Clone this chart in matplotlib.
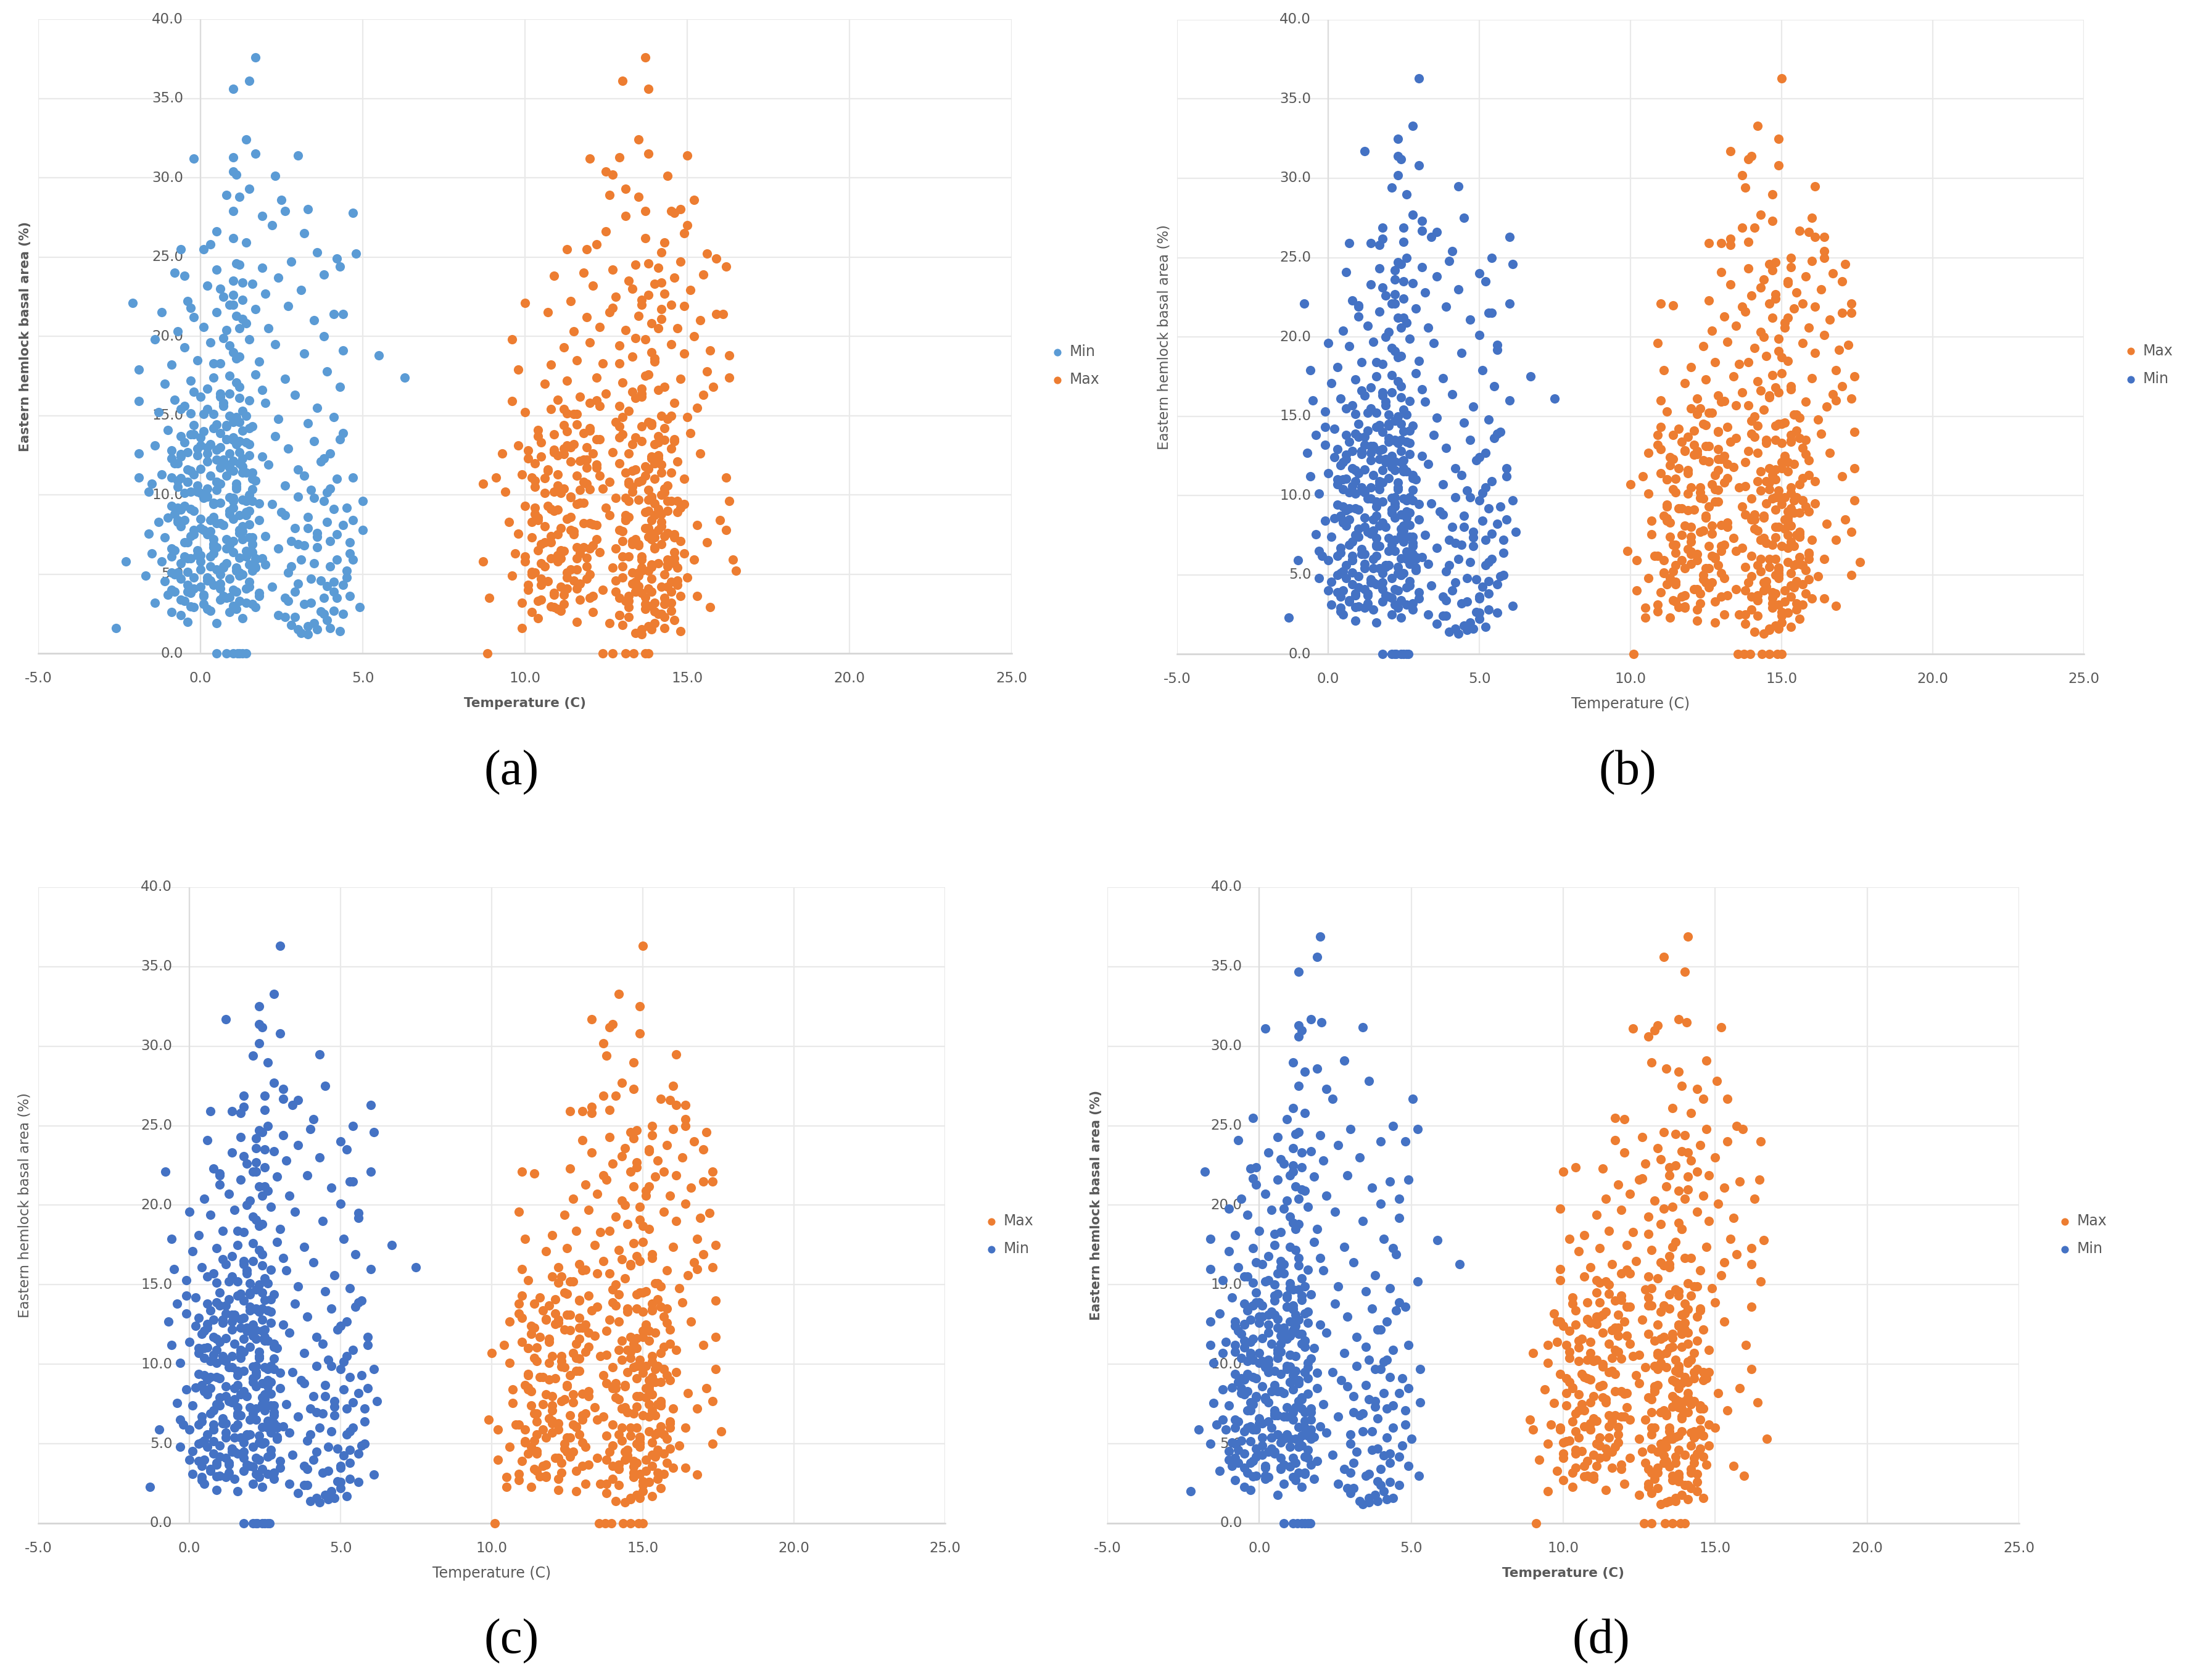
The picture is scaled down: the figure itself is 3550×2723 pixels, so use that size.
import matplotlib
matplotlib.use('Agg')
import matplotlib.pyplot as plt


MIN_COLOR_LIGHT = '#5B9BD5'
MIN_COLOR = '#4472C4'
MAX_COLOR = '#ED7D31'
TEXT_GREY = '#595959'

X_TICKS = [-5.0, 0.0, 5.0, 10.0, 15.0, 20.0, 25.0]
Y_TICKS = [0.0, 5.0, 10.0, 15.0, 20.0, 25.0, 30.0, 35.0, 40.0]
X_LABEL = 'Temperature (C)'
Y_LABEL = 'Eastern hemlock basal area (%)'
CAPTIONS = ['(a)', '(b)', '(c)', '(d)']

# panel (a): basal area of each plot and its min / max temperature
BASAL_A = [
    37.6, 36.1, 35.6, 32.4, 31.5, 31.2, 31.3, 31.4, 30.4, 30.2,
    30.1, 28.9, 28.8, 29.3, 28.6, 27.9, 28.0, 27.8, 27.9, 27.6,
    26.5, 26.6, 27.0, 25.2, 25.3, 25.5, 25.5, 25.8, 23.8, 22.1,
    21.5, 17.9, 15.9, 18.8, 17.4, 12.6, 11.1, 5.8, 1.6, 9.6,
    7.8, 2.9, 5.9, 19.8, 10.7, 24.4, 21.4, 5.2, 3.6, 3.5,
    0.0, 0.0, 0.0, 0.0, 0.0, 0.0, 0.0,
    1.3, 1.5, 1.2, 1.8, 1.6, 2.0, 1.9, 2.2, 2.4, 2.1, 2.6, 2.8, 2.5, 2.9, 2.3, 1.4,
    3.2, 3.4, 3.1, 3.6, 3.3, 3.8, 3.5, 3.2, 3.9, 3.7,
    4.1, 4.3, 4.0, 4.5, 4.2, 4.4, 4.6, 4.8, 4.9, 5.1,
    5.3, 5.0, 5.4, 5.2, 5.6, 5.5, 5.7, 5.9, 5.8, 6.0,
    5.5, 4.7, 6.1, 5.1, 4.6, 3.9, 5.7,
    6.3, 6.5, 6.2, 6.7, 6.4, 6.9, 6.6, 6.8, 7.1, 7.3,
    7.0, 7.5, 7.2, 7.7, 7.4, 7.9, 7.6, 8.1, 8.3, 8.0,
    8.5, 8.2, 8.7, 8.4, 8.9, 8.6, 9.1, 9.3, 9.0, 9.5,
    9.2, 9.7, 9.4, 9.9, 9.6, 6.1, 7.8, 8.8, 6.0, 9.8,
    7.0, 8.4,
    10.2, 10.5, 10.1, 10.7, 10.4, 10.9, 10.6, 10.3, 11.0, 11.3,
    11.5, 11.2, 11.7, 11.4, 11.9, 11.6, 12.1, 12.3, 12.5, 12.2,
    12.7, 12.4, 12.9, 12.6, 13.1, 13.3, 13.0, 13.5, 13.2, 13.7,
    13.4, 13.9, 10.8, 12.0, 13.6, 11.1,
    14.1, 14.4, 14.2, 14.6, 14.3, 14.8, 14.5, 14.9, 15.2, 15.4,
    15.1, 15.6, 15.3, 15.8, 15.5, 16.0, 16.2, 16.4, 16.1, 16.6,
    16.3, 16.8, 17.0, 17.2, 17.4, 17.1, 17.6, 17.3, 17.8, 15.0,
    16.7,
    18.2, 18.5, 18.3, 18.7, 18.4, 18.9, 19.1, 19.3, 19.6, 19.4,
    19.8, 19.5, 20.0, 20.3, 20.6, 20.4, 20.8, 20.5, 21.0, 21.2,
    21.5, 21.3, 21.7, 21.9, 21.4,
    22.2, 22.5, 22.3, 22.7, 22.9, 23.2, 23.5, 23.3, 23.7, 23.9,
    24.2, 24.5, 24.3, 24.7, 24.9, 24.0, 22.0,
    2.95, 4.1, 5.15, 6.05, 6.9, 8.15, 9.05, 9.85, 11.05, 12.15,
    12.85, 14.05, 15.15, 15.95, 4.55, 6.45, 8.55, 10.35, 12.55, 14.45,
    5.45, 7.55, 9.45, 11.65, 13.45, 3.55, 2.65, 4.25, 7.35, 10.15,
]
TMIN_A = [
    1.7, 1.5, 1.0, 1.4, 1.7, -0.2, 1.0, 3.0, 1.0, 1.1,
    2.3, 0.8, 1.2, 1.5, 2.5, 2.6, 3.3, 4.7, 1.0, 1.9,
    3.2, 0.5, 2.2, 4.8, 3.6, -0.6, 0.1, 0.3, -0.5, -2.1,
    -1.2, -1.9, -1.9, 5.5, 6.3, -1.9, -1.9, -2.3, -2.6, 5.0,
    5.0, 4.9, 4.7, -1.4, -1.5, 4.3, 4.4, 4.5, 4.6, 4.2,
    0.5, 0.8, 1.0, 1.15, 1.3, 1.4, 1.2,
    3.1, 3.6, 3.3, 2.8, 4.0, -0.4, 0.5, 1.3, 2.4, 3.9, -0.9, 0.2, 4.4, 1.7, 2.9, 4.3,
    -1.4, -0.6, 0.1, 0.7, 1.2, 1.8, 2.6, 3.4, 4.1, -1.0,
    -0.2, 0.4, 1.0, 1.5, 2.2, 3.0, 3.7, 4.5, -1.7, -0.7,
    0.0, 0.6, 1.1, 1.6, 2.0, 2.8, 3.5, 4.2, -1.2, -0.3,
    0.3, 0.9, 1.4, -0.9, 0.2, -0.4, 0.8,
    -1.5, -0.8, -0.1, 0.5, 1.0, 1.6, 2.4, 3.2, 4.0, -1.1,
    -0.4, 0.2, 0.8, 1.3, 2.0, 2.9, 3.6, 4.4, -1.3, -0.6,
    0.0, 0.6, 1.2, 1.8, 2.5, 3.3, 4.1, -0.9, -0.2, 0.4,
    1.0, 1.5, 2.2, 3.0, 3.8, 0.3, -0.2, 0.9, 1.9, 0.1,
    4.6, 4.7,
    -1.6, -0.7, 0.0, 0.6, 1.1, 1.7, 2.6, 3.4, 4.2, -1.2,
    -0.3, 0.3, 0.9, 1.4, 2.1, 3.0, 3.7, -0.9, -0.1, 0.5,
    1.2, 1.9, 2.7, 4.0, -1.4, -0.5, 0.2, 0.8, 1.5, 2.3,
    3.5, 4.4, -0.4, 0.7, 0.0, 4.7,
    -1.0, -0.2, 0.4, 1.0, 1.6, 2.4, 3.3, 4.1, -1.3, -0.6,
    0.1, 0.7, 1.3, 2.0, 3.6, -0.8, 0.0, 0.6, 1.2, 1.9,
    2.9, 4.3, -1.1, -0.3, 0.4, 1.1, 1.7, 2.6, 3.9, 0.9,
    0.2,
    -0.9, -0.1, 0.6, 1.2, 1.8, 3.2, 4.4, -0.5, 0.3, 0.9,
    1.5, 2.3, 3.8, -0.7, 0.1, 0.8, 1.4, 2.1, 3.5, -0.2,
    0.5, 1.1, 1.7, 2.7, 4.1,
    -0.4, 0.7, 1.3, 2.0, 3.1, 0.2, 1.0, 1.6, 2.4, 3.8,
    0.5, 1.2, 1.9, 2.8, 4.2, -0.8, 1.0,
    -0.3, 0.6, -0.4, 1.2, 0.4, 1.5, -0.6, 0.9, -0.6, 1.0,
    0.5, 1.3, -0.3, 1.5, -1.1, 1.4, -1.0, 1.6, -0.6, 0.5,
    1.7, -1.6, 1.8, 0.0, 1.0, 0.9, 3.7, 3.9, 3.6, 3.9,
]
TMAX_A = [
    13.7, 13.0, 13.8, 13.5, 13.8, 12.0, 12.9, 15.0, 12.5, 12.7,
    14.4, 12.6, 13.5, 13.1, 15.2, 14.5, 14.8, 14.6, 13.7, 13.1,
    14.9, 12.5, 15.0, 15.6, 14.2, 11.3, 11.9, 12.2, 10.9, 10.0,
    10.7, 9.8, 9.6, 16.3, 16.3, 9.3, 9.1, 8.7, 9.9, 16.3,
    16.2, 15.7, 16.4, 9.6, 8.7, 16.2, 16.1, 16.5, 15.3, 8.9,
    8.85, 12.4, 12.7, 13.1, 13.35, 13.7, 13.8,
    13.4, 13.9, 13.6, 13.0, 14.3, 11.6, 12.6, 10.4, 12.9, 14.6, 10.2, 11.0, 14.1, 13.2, 14.3, 14.8,
    9.9, 10.5, 11.2, 12.1, 13.1, 13.6, 12.9, 14.0, 14.5, 10.9,
    11.6, 10.1, 12.4, 13.4, 14.2, 13.3, 14.7, 15.0, 9.6, 10.3,
    11.4, 12.0, 12.7, 13.8, 14.4, 13.0, 14.1, 15.2, 10.0, 11.1,
    10.6, 11.9, 13.2, 11.3, 12.8, 13.9, 14.6,
    9.7, 10.4, 11.0, 11.8, 12.3, 13.3, 14.0, 13.5, 14.8, 10.2,
    10.8, 11.5, 12.2, 13.0, 14.3, 13.7, 14.4, 15.3, 9.5, 10.6,
    11.3, 12.0, 12.6, 13.9, 14.7, 13.2, 14.1, 10.0, 10.9, 11.7,
    12.5, 13.5, 14.9, 13.9, 14.5, 13.6, 12.9, 14.2, 11.6, 12.8,
    15.6, 16.0,
    9.4, 10.3, 11.1, 11.9, 12.4, 13.6, 14.4, 13.8, 14.9, 9.9,
    10.7, 11.6, 12.2, 13.1, 14.2, 13.4, 14.7, 10.1, 11.0, 11.8,
    12.7, 13.9, 14.5, 15.4, 9.8, 10.5, 11.4, 12.3, 13.3, 14.1,
    14.6, 15.1, 12.6, 14.0, 12.9, 16.2,
    10.4, 11.2, 12.0, 12.8, 13.6, 14.4, 13.9, 15.0, 10.0, 10.8,
    11.5, 12.3, 13.2, 14.6, 15.3, 11.0, 11.7, 12.5, 13.4, 14.1,
    15.5, 15.8, 10.6, 11.3, 12.2, 13.0, 13.8, 14.8, 15.6, 14.2,
    13.6,
    10.8, 11.6, 12.4, 13.3, 14.0, 14.9, 15.7, 11.2, 12.0, 12.9,
    13.7, 14.5, 15.2, 11.5, 12.3, 13.1, 13.9, 14.7, 15.4, 11.9,
    12.6, 13.5, 14.2, 14.9, 15.9,
    11.4, 12.8, 13.6, 14.3, 15.1, 12.1, 13.2, 14.0, 14.6, 15.5,
    12.7, 13.4, 14.1, 14.8, 15.9, 11.8, 14.5,
    10.8, 11.3, 10.2, 11.9, 10.5, 12.1, 11.0, 11.4, 10.6, 11.7,
    10.9, 12.0, 11.3, 12.2, 10.7, 11.2, 10.4, 12.0, 11.2, 11.6,
    13.9, 9.8, 14.0, 13.8, 14.3, 13.7, 14.0, 13.5, 13.8, 14.3,
]
# the crowded core of panel (a)
BASAL_A_CORE = [
    2.7, 3.3, 3.9, 4.4, 5.0, 5.6, 6.2, 6.8, 7.4, 8.0,
    8.6, 9.2, 9.8, 10.4, 11.0, 11.6, 12.2, 12.8, 13.4, 14.0,
    2.9, 3.5, 4.1, 4.7, 5.3, 5.9, 6.5, 7.1, 7.7, 8.3,
    8.9, 9.5, 10.1, 10.7, 11.3, 11.9, 12.5, 13.1, 13.7, 14.3,
    3.1, 3.7, 4.3, 4.9, 5.5, 6.1, 6.7, 7.3, 7.9, 8.5,
    9.1, 9.7, 10.3, 10.9, 11.5, 12.1, 12.7, 13.3, 13.9, 14.9,
    2.6, 3.2, 3.8, 4.6, 5.2, 5.8, 6.4, 7.0, 7.6, 8.2,
    8.8, 9.4, 10.0, 10.6, 11.2, 11.8, 12.4, 13.0, 13.6, 15.4,
    3.4, 4.0, 4.8, 5.4, 6.0, 6.6, 7.2, 7.8, 8.4, 9.0,
    9.6, 10.2, 10.8, 11.4, 12.0, 12.6, 13.2, 13.8, 14.6, 15.8,
    3.6, 4.2, 5.1, 5.7, 6.3, 6.9, 7.5, 8.1, 8.7, 9.3,
    9.9, 10.5, 11.1, 11.7, 12.3, 12.9, 13.5, 14.2, 15.1, 16.4,
    2.4, 3.0, 3.6, 4.2, 4.8, 5.4, 6.0, 6.6, 7.2, 7.8,
    8.4, 9.0, 9.6, 10.2, 10.8, 11.4, 12.0, 12.6, 13.2, 13.8,
    14.4, 15.0, 15.6, 16.2, 16.8, 17.5, 18.6, 19.9, 21.1, 22.6,
    2.8, 3.9, 5.0, 6.1, 7.3, 8.4, 9.6, 10.8, 12.0, 16.5,
    19.0, 20.5, 22.0, 23.4, 24.6, 25.9, 18.3, 21.8, 23.0, 26.2,
    1.5, 1.9, 2.3, 2.7, 3.1, 3.5, 3.9, 4.3, 4.7, 5.1,
    5.5, 5.9, 6.3, 6.7, 7.1, 7.5, 7.9, 8.3, 8.7, 9.2,
    9.8, 10.4, 11.2, 12.3, 13.5, 1.7, 2.5, 3.3, 4.5, 6.9,
]
TMIN_A_CORE = [
    0.3, -0.5, 1.1, 0.6, -0.8, 1.5, 0.0, 0.9, -0.3, 1.3,
    0.4, -0.7, 1.0, 0.2, 1.6, -0.4, 0.7, -0.9, 1.2, 0.1,
    -0.2, 0.8, 1.4, -0.6, 0.5, 1.7, -0.1, 1.0, 0.3, -0.7,
    1.4, 0.6, -0.5, 1.1, -0.2, 0.9, 1.5, 0.0, -0.6, 0.8,
    1.6, 0.1, -0.4, 1.2, 0.7, -0.9, 0.4, 1.5, 0.0, 1.0,
    -0.3, 1.3, 0.5, -0.7, 1.0, 0.2, -0.4, 1.4, 0.6, 1.1,
    0.9, 1.4, -0.3, 0.3, 1.1, 0.0, 1.6, -0.5, 1.2, 0.5,
    -0.8, 0.4, 1.5, -0.1, 0.8, 1.3, -0.6, 0.6, 1.0, 0.2,
    0.6, -0.9, 0.2, 1.7, -0.4, 0.8, 1.3, 0.1, -0.7, 1.5,
    1.0, -0.3, 0.5, 1.6, -0.8, 0.9, 0.3, -0.2, 1.2, 0.7,
    1.8, 0.0, 1.2, -0.6, 0.4, 1.6, -0.2, 0.7, 1.4, -0.5,
    0.2, 1.1, -0.9, 0.6, 1.3, -0.1, 0.8, 1.5, 0.4, 0.9,
    -0.6, 1.0, 0.1, 1.5, -0.2, 0.7, 1.7, -0.9, 0.4, 1.2,
    -0.5, 0.9, 1.6, -0.1, 0.5, 1.3, -0.7, 0.2, 1.1, -0.3,
    0.8, 1.4, -0.5, 0.6, 1.2, 0.9, 1.1, 0.7, 1.3, 1.0,
    1.1, -0.8, 1.3, -0.5, 1.6, 0.3, 1.4, -0.4, 1.2, -0.2,
    1.0, 1.2, 0.9, 1.3, 1.1, 1.4, 0.4, -0.3, 0.6, 1.0,
    3.0, 3.5, 2.6, 4.1, 3.2, 3.8, 2.9, 4.4, 3.4, 2.7,
    4.0, 3.1, 4.6, 3.6, 2.8, 4.2, 3.3, 3.9, 2.6, 4.5,
    3.5, 4.0, 3.2, 3.8, 4.3, 3.3, 3.8, 2.7, 4.1, 3.0,
]
TMAX_A_CORE = [
    11.1, 10.4, 13.4, 11.7, 10.2, 13.9, 11.0, 12.1, 10.8, 14.2,
    11.4, 10.3, 13.1, 11.2, 14.0, 10.7, 11.9, 10.1, 13.6, 11.3,
    10.9, 12.0, 13.8, 10.5, 11.6, 14.4, 11.1, 13.0, 11.5, 10.2,
    13.7, 11.8, 10.6, 13.2, 11.0, 12.2, 14.1, 11.3, 10.4, 12.9,
    14.3, 11.2, 10.5, 13.5, 11.9, 10.0, 11.6, 14.0, 11.1, 13.1,
    10.8, 13.8, 11.7, 10.3, 13.3, 11.4, 10.9, 14.1, 11.8, 13.0,
    12.1, 14.5, 10.9, 11.5, 13.6, 11.0, 14.6, 10.6, 13.9, 11.8,
    10.3, 11.6, 14.2, 11.0, 12.3, 13.7, 10.5, 11.9, 13.4, 11.2,
    11.7, 10.1, 11.3, 14.7, 10.8, 12.0, 13.9, 11.4, 10.4, 14.4,
    13.2, 10.9, 11.8, 14.5, 10.3, 12.1, 11.5, 10.9, 13.8, 12.0,
    14.8, 11.1, 13.5, 10.5, 11.7, 14.2, 11.0, 12.2, 14.0, 10.7,
    11.4, 13.3, 10.2, 11.9, 13.9, 11.2, 12.2, 14.3, 11.6, 13.6,
    12.9, 13.9, 13.2, 14.4, 13.0, 13.6, 14.6, 12.8, 13.4, 14.1,
    13.1, 13.8, 14.7, 13.3, 13.5, 14.2, 12.9, 13.2, 14.0, 13.0,
    13.9, 14.5, 12.9, 13.6, 14.3, 13.7, 14.0, 13.4, 14.2, 13.8,
    13.7, 12.8, 14.3, 13.0, 14.6, 13.1, 14.4, 13.2, 14.0, 13.3,
    13.9, 14.1, 13.6, 14.2, 13.8, 14.3, 12.9, 12.7, 13.3, 13.7,
    13.6, 14.0, 13.2, 14.5, 13.7, 14.3, 13.4, 14.7, 13.9, 13.3,
    14.4, 13.6, 14.9, 14.0, 13.3, 14.6, 13.8, 14.2, 13.1, 14.8,
    13.9, 14.3, 13.7, 14.1, 14.6, 13.8, 14.2, 13.2, 14.5, 13.5,
]

# panels (b) and (c) show the same plots
BASAL_B = [
    36.3, 33.3, 32.5, 31.7, 31.4, 31.2, 30.8, 30.2, 29.4, 29.5,
    29.0, 27.7, 27.3, 27.5, 26.9, 26.9, 26.7, 26.6, 26.3, 25.9,
    25.9, 25.8, 26.2, 26.0, 26.3, 24.6, 22.1, 17.9, 16.0, 17.5,
    16.1, 2.3, 5.9, 12.7, 11.2, 13.8, 14.3, 7.7, 3.05, 9.7,
    16.0, 22.1, 25.4, 22.0, 19.6, 6.5, 4.0, 2.9, 10.7, 5.8,
    5.0, 3.5, 23.5, 21.5, 19.5, 11.7, 14.0,
    0.0, 0.0, 0.0, 0.0, 0.0, 0.0, 0.0, 0.0,
    1.3, 1.6, 1.4, 1.9, 1.7, 2.1, 2.0, 2.3, 2.5, 2.2, 2.7, 2.9, 2.6, 2.8, 2.4, 1.5,
    3.1, 3.3, 3.2, 3.7, 3.4, 3.9, 3.6, 3.3, 3.8, 3.6,
    4.2, 4.4, 4.1, 4.6, 4.3, 4.5, 4.7, 4.9, 4.8, 5.2,
    5.4, 5.1, 5.5, 5.3, 5.7, 5.6, 5.8, 6.0, 5.9, 5.9,
    5.4, 4.8, 6.0, 5.0, 4.5, 3.8, 5.6,
    6.2, 6.4, 6.3, 6.8, 6.5, 7.0, 6.7, 6.9, 7.2, 7.4,
    7.1, 7.6, 7.3, 7.8, 7.5, 8.0, 7.7, 8.2, 8.4, 8.1,
    8.6, 8.3, 8.8, 8.5, 9.0, 8.7, 9.2, 9.4, 9.1, 9.6,
    9.3, 9.8, 9.5, 9.9, 9.7, 6.0, 7.9, 8.9, 6.1, 9.8,
    7.2, 8.5,
    10.1, 10.4, 10.2, 10.8, 10.5, 11.0, 10.7, 10.3, 10.9, 11.4,
    11.6, 11.3, 11.8, 11.5, 12.0, 11.7, 12.2, 12.4, 12.6, 12.3,
    12.8, 12.5, 13.0, 12.7, 13.2, 13.4, 13.1, 13.6, 13.3, 13.8,
    13.5, 13.9, 10.6, 12.1, 13.7, 11.2,
    14.2, 14.5, 14.3, 14.7, 14.4, 14.9, 14.6, 14.8, 15.3, 15.5,
    15.2, 15.7, 15.4, 15.9, 15.6, 16.1, 16.3, 16.5, 16.2, 16.7,
    16.4, 16.9, 17.1, 17.3, 17.5, 17.2, 17.7, 17.4, 17.9, 15.1,
    16.8,
    18.1, 18.4, 18.3, 18.8, 18.5, 19.0, 19.2, 19.4, 19.7, 19.3,
    19.9, 19.6, 20.1, 20.4, 20.7, 20.3, 20.9, 20.6, 21.1, 21.3,
    21.6, 21.2, 21.8, 21.9, 21.5,
    22.3, 22.6, 22.4, 22.8, 23.0, 23.3, 23.6, 23.4, 23.8, 24.0,
    24.3, 24.6, 24.4, 24.8, 25.0, 24.1, 22.1,
    2.95, 4.1, 5.15, 6.05, 6.9, 8.15, 9.05, 9.85, 11.05, 12.15,
    12.85, 14.05, 15.15, 15.95, 4.55, 6.45, 8.55, 10.35, 12.55, 14.45,
    5.45, 7.55, 9.45, 11.65, 13.45, 3.55, 2.65, 4.25, 7.35, 10.15,
]
TMIN_B = [
    3.0, 2.8, 2.3, 1.2, 2.3, 2.4, 3.0, 2.3, 2.1, 4.3,
    2.6, 2.8, 3.1, 4.5, 1.8, 2.5, 3.1, 3.6, 3.4, 0.7,
    1.4, 1.7, 1.8, 2.5, 6.0, 6.1, -0.8, -0.6, -0.5, 6.7,
    7.5, -1.3, -1.0, -0.7, -0.6, -0.4, -0.1, 6.2, 6.1, 6.1,
    6.0, 6.0, 4.1, 1.0, 0.0, -0.3, 0.0, 0.4, 0.3, 5.3,
    5.8, 5.0, 5.2, 5.4, 5.6, 5.9, 5.7,
    1.8, 2.1, 2.25, 2.4, 2.5, 2.6, 2.65, 2.2,
    4.3, 4.8, 4.0, 3.6, 5.2, 0.9, 1.6, 2.4, 3.3, 5.0, 0.4, 1.2, 5.6, 2.8, 3.9, 4.6,
    0.1, 0.7, 1.3, 1.9, 2.4, 3.0, 3.8, 4.6, 5.3, 0.4,
    1.0, 1.6, 2.2, 2.7, 3.4, 4.2, 4.9, 5.7, -0.3, 0.5,
    1.2, 1.8, 2.3, 2.9, 3.3, 4.0, 4.7, 5.4, 0.0, 0.8,
    1.5, 2.1, 2.6, 0.3, 1.4, 0.9, 2.0,
    -0.2, 0.4, 1.1, 1.7, 2.2, 2.8, 3.6, 4.4, 5.2, 0.1,
    0.8, 1.4, 2.0, 2.5, 3.2, 4.1, 4.8, 5.6, -0.1, 0.6,
    1.2, 1.8, 2.4, 3.0, 3.7, 4.5, 5.3, 0.3, 1.0, 1.6,
    2.2, 2.7, 3.4, 4.2, 5.0, 1.5, 1.0, 2.1, 3.1, 1.3,
    5.8, 5.9,
    -0.3, 0.5, 1.2, 1.8, 2.3, 2.9, 3.8, 4.6, 5.4, 0.0,
    0.9, 1.5, 2.1, 2.6, 3.3, 4.2, 4.9, 0.2, 1.1, 1.7,
    2.4, 3.1, 3.9, 5.2, -0.1, 0.7, 1.4, 2.0, 2.7, 3.5,
    4.7, 5.6, 0.8, 1.9, 1.2, 5.9,
    0.2, 1.0, 1.6, 2.2, 2.8, 3.6, 4.5, 5.3, -0.1, 0.6,
    1.3, 1.9, 2.5, 3.2, 4.8, 0.4, 1.2, 1.8, 2.4, 3.1,
    4.1, 5.5, 0.1, 0.9, 1.6, 2.3, 2.9, 3.8, 5.1, 2.0,
    1.4,
    0.3, 1.1, 1.8, 2.4, 3.0, 4.4, 5.6, 0.7, 1.5, 2.1,
    2.7, 3.5, 5.0, 0.5, 1.3, 2.0, 2.6, 3.3, 4.7, 1.0,
    1.7, 2.3, 2.9, 3.9, 5.3,
    0.8, 1.9, 2.5, 3.2, 4.3, 1.4, 2.2, 2.8, 3.6, 5.0,
    1.7, 2.4, 3.1, 4.0, 5.4, 0.6, 2.2,
    0.9, 1.8, 0.8, 2.4, 1.6, 2.7, 0.6, 2.1, 0.6, 2.2,
    1.7, 2.5, 0.9, 2.7, 0.1, 2.6, 0.2, 2.8, 0.6, 1.7,
    2.9, -0.4, 3.0, 1.2, 2.2, 2.1, 4.9, 5.1, 4.8, 5.1,
]
TMAX_B = [
    15.0, 14.2, 14.9, 13.3, 14.0, 13.9, 14.9, 13.7, 13.8, 16.1,
    14.7, 14.3, 14.7, 16.0, 13.7, 14.1, 15.6, 15.9, 16.1, 12.6,
    13.0, 13.3, 13.3, 13.9, 16.4, 17.1, 11.0, 11.1, 11.0, 17.4,
    17.3, 10.5, 10.2, 10.6, 10.4, 10.9, 11.0, 17.3, 16.8, 17.4,
    16.8, 17.3, 16.4, 11.4, 10.9, 9.9, 10.2, 10.5, 10.0, 17.6,
    17.3, 16.4, 17.0, 17.3, 17.2, 17.4, 17.4,
    10.1, 13.55, 13.75, 13.95, 14.35, 14.6, 14.85, 15.0,
    14.4, 14.9, 14.1, 13.8, 15.3, 12.2, 12.8, 11.3, 13.6, 15.6, 10.9, 11.8, 15.2, 14.0, 15.0, 14.6,
    10.9, 11.5, 12.3, 13.2, 14.2, 14.7, 14.0, 15.1, 15.8, 11.7,
    12.6, 11.2, 13.5, 14.5, 15.3, 14.4, 15.9, 16.2, 10.6, 11.4,
    12.5, 13.0, 13.8, 14.9, 15.5, 14.2, 15.2, 16.4, 11.1, 12.2,
    11.8, 13.1, 14.3, 12.4, 13.9, 14.8, 15.7,
    10.8, 11.5, 12.2, 13.0, 13.5, 14.5, 15.2, 14.7, 16.0, 11.3,
    12.0, 12.7, 13.4, 14.2, 15.5, 14.9, 15.6, 16.5, 10.7, 11.8,
    12.5, 13.2, 13.8, 15.1, 15.9, 14.4, 15.3, 11.2, 12.1, 12.9,
    13.7, 14.7, 16.1, 15.1, 15.7, 14.8, 14.1, 15.4, 12.8, 14.0,
    16.8, 17.1,
    10.6, 11.4, 12.3, 13.1, 13.6, 14.8, 15.6, 14.9, 16.1, 11.0,
    11.9, 12.8, 13.4, 14.3, 15.4, 14.6, 15.9, 11.3, 12.2, 13.0,
    13.9, 15.1, 15.7, 16.6, 10.9, 11.7, 12.6, 13.5, 14.5, 15.3,
    15.8, 16.3, 13.8, 15.2, 14.1, 17.0,
    11.6, 12.4, 13.2, 14.0, 14.8, 15.6, 15.1, 16.2, 11.2, 12.0,
    12.7, 13.5, 14.4, 15.8, 16.5, 12.2, 12.9, 13.7, 14.6, 15.3,
    16.7, 17.0, 11.8, 12.5, 13.4, 14.2, 15.0, 16.0, 16.8, 15.4,
    14.8,
    12.0, 12.8, 13.6, 14.5, 15.2, 16.1, 16.9, 12.4, 13.2, 14.1,
    14.9, 15.7, 16.4, 12.7, 13.5, 14.3, 15.1, 15.9, 16.6, 13.1,
    13.8, 14.7, 15.4, 16.1, 17.0,
    12.6, 14.0, 14.8, 15.5, 16.3, 13.3, 14.4, 15.2, 15.8, 16.7,
    13.9, 14.6, 15.3, 16.0, 16.4, 13.0, 15.7,
    11.6, 12.2, 11.1, 12.8, 11.4, 13.0, 11.9, 12.3, 11.5, 12.6,
    11.8, 12.9, 12.2, 13.1, 11.5, 12.0, 11.2, 12.9, 12.1, 12.5,
    14.9, 10.7, 15.0, 14.8, 15.3, 14.7, 15.0, 14.5, 14.8, 15.3,
]
BASAL_B_CORE = [
    2.8, 3.4, 4.0, 4.5, 5.1, 5.7, 6.3, 6.9, 7.5, 8.1,
    8.7, 9.3, 9.9, 10.5, 11.1, 11.7, 12.3, 12.9, 13.5, 14.1,
    3.0, 3.6, 4.2, 4.8, 5.4, 6.0, 6.6, 7.2, 7.8, 8.4,
    9.0, 9.6, 10.2, 10.8, 11.4, 12.0, 12.6, 13.2, 13.8, 14.4,
    3.2, 3.8, 4.4, 5.0, 5.6, 6.2, 6.8, 7.4, 8.0, 8.6,
    9.2, 9.8, 10.4, 11.0, 11.6, 12.2, 12.8, 13.4, 14.0, 15.0,
    2.5, 3.1, 3.7, 4.5, 5.1, 5.7, 6.3, 6.9, 7.5, 8.1,
    8.7, 9.3, 9.9, 10.5, 11.1, 11.7, 12.3, 12.9, 13.5, 15.5,
    3.3, 3.9, 4.7, 5.3, 5.9, 6.5, 7.1, 7.7, 8.3, 8.9,
    9.5, 10.1, 10.7, 11.3, 11.9, 12.5, 13.1, 13.7, 14.5, 15.9,
    3.5, 4.1, 5.0, 5.6, 6.2, 6.8, 7.4, 8.0, 8.6, 9.2,
    9.8, 10.4, 11.0, 11.6, 12.2, 12.8, 13.4, 14.1, 15.2, 16.5,
    2.5, 3.1, 3.7, 4.3, 4.9, 5.5, 6.1, 6.7, 7.3, 7.9,
    8.5, 9.1, 9.7, 10.3, 10.9, 11.5, 12.1, 12.7, 13.3, 13.9,
    14.5, 15.1, 15.7, 16.3, 16.9, 17.6, 18.7, 20.0, 21.2, 22.7,
    2.9, 4.0, 5.1, 6.2, 7.4, 8.5, 9.7, 10.9, 12.1, 16.6,
    19.1, 20.6, 22.1, 23.5, 24.7, 25.0, 18.4, 21.9, 23.1, 24.2,
    1.6, 2.0, 2.4, 2.8, 3.2, 3.6, 4.0, 4.4, 4.8, 5.2,
    5.6, 6.0, 6.4, 6.8, 7.2, 7.6, 8.0, 8.4, 8.8, 9.3,
    9.9, 10.5, 11.3, 12.4, 13.6, 1.8, 2.6, 3.4, 4.6, 7.0,
]
TMIN_B_CORE = [
    1.5, 0.7, 2.3, 1.8, 0.4, 2.7, 1.2, 2.1, 0.9, 2.5,
    1.6, 0.5, 2.2, 1.4, 2.8, 0.8, 1.9, 0.3, 2.4, 1.3,
    1.0, 2.0, 2.6, 0.6, 1.7, 2.9, 1.1, 2.2, 1.5, 0.5,
    2.6, 1.8, 0.7, 2.3, 1.0, 2.1, 2.7, 1.2, 0.6, 2.0,
    2.8, 1.3, 0.8, 2.4, 1.9, 0.3, 1.6, 2.7, 1.2, 2.2,
    0.9, 2.5, 1.7, 0.5, 2.2, 1.4, 0.8, 2.6, 1.8, 2.3,
    2.1, 2.6, 0.9, 1.5, 2.3, 1.2, 2.8, 0.7, 2.4, 1.7,
    0.4, 1.6, 2.7, 1.1, 2.0, 2.5, 0.6, 1.8, 2.2, 1.4,
    1.8, 0.3, 1.4, 2.9, 0.8, 2.0, 2.5, 1.3, 0.5, 2.7,
    2.2, 0.9, 1.7, 2.8, 0.4, 2.1, 1.5, 1.0, 2.4, 1.9,
    3.0, 1.2, 2.4, 0.6, 1.6, 2.8, 1.0, 1.9, 2.6, 0.7,
    1.4, 2.3, 0.3, 1.8, 2.5, 1.1, 2.0, 2.7, 1.6, 2.1,
    0.5, 2.2, 1.3, 2.7, 1.0, 1.9, 2.9, 0.4, 1.6, 2.4,
    0.7, 2.1, 2.8, 1.1, 1.7, 2.5, 0.5, 1.4, 2.3, 0.9,
    2.0, 2.6, 0.8, 1.8, 2.4, 2.1, 2.3, 1.9, 2.5, 2.2,
    2.3, 0.5, 2.5, 0.8, 2.8, 1.5, 2.6, 0.9, 2.4, 1.1,
    2.2, 2.4, 2.1, 2.5, 2.3, 2.6, 1.6, 1.0, 1.8, 2.2,
    4.2, 4.7, 3.8, 5.3, 4.4, 5.0, 4.1, 5.6, 4.6, 3.9,
    5.2, 4.3, 5.8, 4.8, 4.0, 5.4, 4.5, 5.1, 3.8, 5.7,
    4.7, 5.2, 4.4, 5.0, 5.5, 4.5, 5.0, 3.9, 5.3, 4.2,
]
TMAX_B_CORE = [
    12.2, 11.4, 15.1, 12.7, 11.1, 15.6, 12.0, 13.1, 11.7, 15.3,
    12.5, 11.2, 14.8, 12.3, 15.7, 11.6, 12.9, 11.0, 14.5, 12.1,
    11.8, 13.0, 15.4, 11.3, 12.6, 15.9, 11.9, 14.3, 12.4, 11.2,
    15.2, 12.8, 11.5, 14.6, 11.9, 13.2, 15.8, 12.1, 11.4, 14.2,
    15.5, 12.3, 11.5, 14.9, 12.9, 10.9, 12.6, 15.6, 12.0, 14.4,
    11.7, 15.0, 12.8, 11.2, 14.7, 12.4, 11.8, 15.3, 12.9, 14.1,
    13.1, 15.7, 11.8, 12.5, 14.9, 12.0, 15.9, 11.5, 15.2, 12.7,
    11.1, 12.6, 15.5, 12.0, 13.2, 15.0, 11.4, 12.9, 14.8, 12.3,
    12.8, 11.0, 12.4, 15.8, 11.7, 13.0, 15.3, 12.3, 11.3, 15.6,
    14.5, 11.9, 12.7, 15.9, 11.3, 13.1, 12.5, 11.9, 15.0, 13.0,
    16.0, 12.1, 14.8, 11.5, 12.7, 15.4, 12.0, 13.2, 15.2, 11.6,
    12.4, 14.6, 11.2, 12.9, 15.1, 12.2, 13.3, 15.5, 12.6, 14.9,
    13.8, 14.9, 14.2, 15.4, 14.0, 14.6, 15.6, 13.7, 14.4, 15.1,
    14.0, 14.8, 15.7, 14.3, 14.5, 15.2, 13.8, 14.2, 15.0, 14.0,
    14.9, 15.5, 13.9, 14.6, 15.3, 14.7, 15.0, 14.4, 15.2, 14.8,
    14.7, 13.8, 15.3, 14.0, 15.6, 14.1, 15.4, 14.2, 15.0, 14.3,
    14.9, 15.1, 14.6, 15.2, 14.8, 15.3, 13.9, 13.7, 14.3, 14.7,
    14.6, 15.0, 14.2, 15.5, 14.7, 15.3, 14.4, 15.7, 14.9, 14.3,
    15.4, 14.6, 15.9, 15.0, 14.3, 15.6, 14.8, 15.2, 14.1, 15.8,
    14.9, 15.3, 14.7, 15.1, 15.6, 14.8, 15.2, 14.2, 15.5, 14.5,
]

# panel (d)
BASAL_D = [
    36.9, 35.6, 34.7, 31.7, 31.5, 31.3, 30.6, 31.1, 31.2, 31.0,
    29.0, 28.6, 28.4, 29.1, 27.8, 27.5, 27.3, 26.7, 26.7, 24.8,
    25.5, 22.1, 22.4, 17.9, 16.0, 19.8, 17.8, 16.3, 2.0, 5.9,
    6.5, 4.0, 12.7, 11.2, 10.7, 9.7, 7.6, 3.0, 3.6, 5.3,
    24.0, 21.6, 20.4, 17.3, 15.2, 13.6, 25.4,
    0.0, 0.0, 0.0, 0.0, 0.0, 0.0, 0.0,
    1.2, 1.4, 1.3, 1.9, 1.5, 2.1, 1.8, 2.3, 2.5, 2.0, 2.7, 2.9, 2.4, 2.8, 2.2, 1.6,
    3.3, 3.5, 3.0, 3.7, 3.2, 3.9, 3.4, 3.1, 3.8, 3.6,
    4.2, 4.4, 4.1, 4.6, 4.3, 4.5, 4.7, 4.9, 5.0, 5.2,
    5.4, 5.1, 5.3, 5.3, 5.7, 5.6, 5.8, 6.0, 5.9, 5.9,
    5.4, 4.8, 6.0, 5.0, 4.5, 3.8, 5.6,
    6.2, 6.4, 6.3, 6.8, 6.5, 7.0, 6.7, 6.9, 7.2, 7.4,
    7.1, 7.6, 7.3, 7.8, 7.5, 8.0, 7.7, 8.2, 8.4, 8.1,
    8.6, 8.3, 8.8, 8.5, 9.0, 8.7, 9.2, 9.4, 9.1, 9.6,
    9.3, 9.8, 9.5, 9.9, 9.7, 6.0, 7.9, 8.9, 6.1, 9.8,
    7.1, 8.5,
    10.1, 10.4, 10.2, 10.8, 10.5, 11.0, 10.7, 10.3, 10.9, 11.4,
    11.6, 11.3, 11.8, 11.5, 12.0, 11.7, 12.2, 12.4, 12.6, 12.3,
    12.8, 12.5, 13.0, 12.7, 13.2, 13.4, 13.1, 13.6, 13.3, 13.8,
    13.5, 13.9, 10.6, 12.1, 13.7, 11.2,
    14.2, 14.5, 14.3, 14.7, 14.4, 14.9, 14.6, 14.8, 15.3, 15.5,
    15.2, 15.7, 15.4, 15.9, 15.6, 16.1, 16.3, 16.5, 16.2, 16.7,
    16.4, 16.9, 17.1, 17.3, 17.5, 17.2, 17.7, 17.4, 17.9, 15.1,
    16.8,
    18.1, 18.4, 18.3, 18.8, 18.5, 19.0, 19.2, 19.4, 19.7, 19.3,
    19.9, 19.6, 20.1, 20.4, 20.7, 20.3, 20.9, 20.6, 21.1, 21.3,
    21.6, 21.2, 21.8, 21.9, 21.5,
    22.3, 22.6, 22.4, 22.8, 23.0, 23.3, 23.6, 23.4, 23.8, 24.0,
    24.3, 24.6, 24.4, 24.8, 25.0, 24.1, 22.1,
    2.95, 4.1, 5.15, 6.05, 6.9, 8.15, 9.05, 9.85, 11.05, 12.15,
    12.85, 14.05, 15.15, 15.95, 4.55, 6.45, 8.55, 10.35, 12.55, 14.45,
    5.45, 7.55, 9.45, 11.65, 13.45, 3.55, 2.65, 4.25, 7.35, 10.15,
]
TMIN_D = [
    2.0, 1.9, 1.3, 1.7, 2.05, 1.3, 1.3, 0.2, 3.4, 1.4,
    1.1, 1.9, 1.5, 2.8, 3.6, 1.3, 2.2, 2.4, 5.05, 5.2,
    -0.2, -1.8, -0.1, -1.6, -1.6, -1.0, 5.85, 6.6, -2.25, -2.0,
    -1.2, -1.0, -1.6, -1.6, -1.2, 5.3, 5.3, 5.25, 4.9, 5.0,
    4.8, 4.9, 4.6, 4.4, 5.2, 4.8, 0.9,
    0.8, 1.1, 1.25, 1.4, 1.5, 1.6, 1.68,
    3.4, 3.9, 3.6, 3.0, 4.2, -0.3, 0.6, 1.4, 2.6, 4.1, -0.8, 0.3, 4.6, 1.8, 3.1, 4.4,
    -1.3, -0.5, 0.2, 0.8, 1.3, 1.9, 2.8, 3.6, 4.3, -0.9,
    -0.1, 0.5, 1.1, 1.6, 2.4, 3.2, 3.9, 4.7, -1.6, -0.6,
    0.1, 0.7, 1.2, 1.7, 2.2, 3.0, 3.7, 4.4, -1.1, -0.2,
    0.4, 1.0, 1.5, -0.8, 0.3, -0.3, 0.9,
    -1.4, -0.7, 0.0, 0.6, 1.1, 1.7, 2.6, 3.4, 4.2, -1.0,
    -0.3, 0.3, 0.9, 1.4, 2.1, 3.1, 3.8, 4.6, -1.2, -0.5,
    0.1, 0.7, 1.3, 1.9, 2.7, 3.5, 4.3, -0.8, -0.1, 0.5,
    1.1, 1.6, 2.4, 3.2, 4.0, 0.4, -0.1, 1.0, 2.0, 0.2,
    4.8, 4.9,
    -1.5, -0.6, 0.1, 0.7, 1.2, 1.8, 2.8, 3.6, 4.4, -1.1,
    -0.2, 0.4, 1.0, 1.5, 2.2, 3.2, 3.9, -0.8, 0.0, 0.6,
    1.3, 2.0, 2.9, 4.2, -1.3, -0.4, 0.3, 0.9, 1.6, 2.5,
    3.7, 4.6, -0.3, 0.8, 0.1, 4.9,
    -0.9, -0.1, 0.5, 1.1, 1.7, 2.6, 3.5, 4.3, -1.2, -0.5,
    0.2, 0.8, 1.4, 2.1, 3.8, -0.7, 0.1, 0.7, 1.3, 2.0,
    3.1, 4.5, -1.0, -0.2, 0.5, 1.2, 1.8, 2.8, 4.1, 1.0,
    0.3,
    -0.8, 0.0, 0.7, 1.3, 1.9, 3.4, 4.6, -0.4, 0.4, 1.0,
    1.6, 2.5, 4.0, -0.6, 0.2, 0.9, 1.5, 2.2, 3.7, -0.1,
    0.6, 1.2, 1.8, 2.9, 4.3,
    -0.3, 0.8, 1.4, 2.1, 3.3, 0.3, 1.1, 1.7, 2.6, 4.0,
    0.6, 1.3, 2.0, 3.0, 4.4, -0.7, 1.1,
    -0.2, 0.7, -0.3, 1.3, 0.5, 1.6, -0.5, 1.0, -0.5, 1.1,
    0.6, 1.4, -0.2, 1.6, -1.0, 1.5, -0.9, 1.7, -0.5, 0.6,
    1.8, -1.5, 1.9, 0.1, 1.1, 1.0, 3.9, 4.1, 3.8, 4.1,
]
TMAX_D = [
    14.1, 13.3, 14.0, 13.8, 14.05, 13.1, 12.8, 12.3, 15.2, 13.0,
    12.9, 13.4, 13.8, 14.7, 15.05, 13.9, 14.4, 14.6, 15.4, 15.9,
    11.7, 10.0, 10.4, 10.2, 9.9, 9.9, 16.6, 16.2, 9.5, 9.0,
    8.9, 9.2, 9.8, 9.5, 9.0, 16.2, 16.4, 15.95, 15.6, 16.7,
    16.5, 16.45, 16.3, 16.2, 16.5, 16.2, 12.0,
    9.1, 12.65, 12.9, 13.35, 13.6, 13.85, 14.0,
    13.2, 13.7, 13.4, 12.9, 14.1, 11.4, 12.5, 10.3, 12.8, 14.4, 10.0, 10.9, 14.0, 13.0, 14.2, 14.6,
    9.8, 10.4, 11.0, 11.9, 12.9, 13.4, 12.8, 13.8, 14.3, 10.7,
    11.4, 10.0, 12.2, 13.2, 14.0, 13.1, 14.5, 14.8, 9.5, 10.2,
    11.2, 11.8, 12.5, 13.6, 14.2, 12.9, 13.9, 15.0, 9.9, 10.9,
    10.5, 11.7, 13.0, 11.1, 12.6, 13.7, 14.4,
    9.6, 10.3, 10.9, 11.7, 12.2, 13.2, 13.9, 13.4, 14.6, 10.1,
    10.7, 11.4, 12.1, 12.9, 14.2, 13.6, 14.3, 15.1, 9.4, 10.5,
    11.2, 11.9, 12.5, 13.8, 14.6, 13.1, 14.0, 9.9, 10.8, 11.6,
    12.4, 13.4, 14.8, 13.8, 14.4, 13.5, 12.8, 14.1, 11.5, 12.7,
    15.4, 15.8,
    9.5, 10.2, 11.0, 11.8, 12.3, 13.5, 14.3, 13.7, 14.8, 9.8,
    10.6, 11.5, 12.1, 13.0, 14.1, 13.3, 14.6, 10.0, 10.9, 11.7,
    12.6, 13.8, 14.4, 15.3, 9.7, 10.4, 11.3, 12.2, 13.2, 14.0,
    14.5, 15.0, 12.5, 13.9, 12.8, 16.0,
    10.3, 11.1, 11.9, 12.7, 13.5, 14.3, 13.8, 14.9, 9.9, 10.7,
    11.4, 12.2, 13.1, 14.5, 15.2, 10.9, 11.6, 12.4, 13.3, 14.0,
    15.3, 15.7, 10.5, 11.2, 12.1, 12.9, 13.7, 14.7, 15.5, 14.1,
    13.5,
    10.7, 11.5, 12.3, 13.2, 13.9, 14.8, 15.6, 11.1, 11.9, 12.8,
    13.6, 14.4, 15.1, 11.4, 12.2, 13.0, 13.8, 14.6, 15.3, 11.8,
    12.5, 13.4, 14.1, 14.8, 15.8,
    11.3, 12.7, 13.5, 14.2, 15.0, 12.0, 13.1, 13.9, 14.5, 15.4,
    12.6, 13.3, 14.0, 14.7, 15.7, 11.7, 14.4,
    10.7, 11.2, 10.1, 11.8, 10.4, 12.0, 10.9, 11.3, 10.5, 11.6,
    10.8, 11.9, 11.2, 12.1, 10.6, 11.1, 10.3, 11.9, 11.1, 11.5,
    13.7, 9.7, 13.8, 13.6, 14.1, 13.5, 13.8, 13.3, 13.6, 14.1,
]
BASAL_D_CORE = [
    2.8, 3.2, 3.8, 4.5, 5.1, 5.5, 6.3, 6.7, 7.5, 7.9,
    8.7, 9.1, 9.9, 10.3, 11.1, 11.5, 12.3, 12.7, 13.5, 13.9,
    3.0, 3.4, 4.2, 4.6, 5.4, 5.8, 6.6, 7.0, 7.8, 8.2,
    9.0, 9.4, 10.2, 10.6, 11.4, 11.8, 12.6, 13.0, 13.8, 14.2,
    3.2, 3.6, 4.4, 4.8, 5.6, 6.0, 6.8, 7.2, 8.0, 8.4,
    9.2, 9.6, 10.4, 10.8, 11.6, 12.0, 12.8, 13.2, 14.0, 14.8,
    2.5, 3.1, 3.9, 4.7, 5.3, 5.9, 6.5, 7.1, 7.7, 8.3,
    8.9, 9.5, 10.1, 10.7, 11.3, 11.9, 12.5, 13.1, 13.7, 15.3,
    3.5, 4.1, 4.9, 5.5, 6.1, 6.7, 7.3, 7.9, 8.5, 9.1,
    9.7, 10.3, 10.9, 11.5, 12.1, 12.7, 13.3, 13.9, 14.7, 15.7,
    3.7, 4.3, 5.2, 5.8, 6.4, 7.0, 7.6, 8.2, 8.8, 9.4,
    10.0, 10.6, 11.2, 11.8, 12.4, 13.0, 13.6, 14.3, 15.0, 16.3,
    2.3, 2.9, 3.5, 4.1, 4.7, 5.3, 5.9, 6.5, 7.1, 7.7,
    8.3, 8.9, 9.5, 10.1, 10.7, 11.3, 11.9, 12.5, 13.1, 13.7,
    14.3, 14.9, 15.5, 16.1, 16.7, 17.4, 18.5, 19.8, 21.0, 22.5,
    2.7, 3.8, 4.9, 6.0, 7.2, 8.3, 9.5, 10.7, 11.9, 16.4,
    18.9, 20.4, 21.9, 23.3, 24.5, 25.8, 18.2, 21.7, 22.9, 26.1,
    1.4, 1.8, 2.2, 2.6, 3.0, 3.4, 3.8, 4.2, 4.6, 5.0,
    5.4, 5.8, 6.2, 6.6, 7.0, 7.4, 7.8, 8.2, 8.6, 9.1,
    9.7, 10.3, 11.1, 12.2, 13.4, 1.6, 2.4, 3.2, 4.4, 6.8,
]
TMIN_D_CORE = [
    0.2, -0.4, 1.2, 0.5, -0.9, 1.4, 0.1, 0.8, -0.2, 1.4,
    0.5, -0.6, 0.9, 0.3, 1.5, -0.5, 0.8, -0.8, 1.1, 0.0,
    -0.1, 0.7, 1.5, -0.7, 0.4, 1.6, 0.0, 1.1, 0.2, -0.6,
    1.3, 0.7, -0.4, 1.0, -0.3, 1.0, 1.6, 0.1, -0.5, 0.9,
    1.5, 0.2, -0.5, 1.3, 0.6, -0.8, 0.5, 1.4, -0.1, 1.1,
    -0.2, 1.2, 0.6, -0.8, 0.9, 0.3, -0.3, 1.5, 0.5, 1.0,
    0.8, 1.5, -0.2, 0.4, 1.0, -0.1, 1.7, -0.4, 1.3, 0.6,
    -0.7, 0.3, 1.6, 0.0, 0.7, 1.4, -0.5, 0.5, 1.1, 0.3,
    0.7, -0.8, 0.1, 1.6, -0.3, 0.9, 1.2, 0.2, -0.6, 1.6,
    0.9, -0.2, 0.6, 1.5, -0.7, 1.0, 0.4, -0.1, 1.3, 0.6,
    1.7, 0.1, 1.3, -0.5, 0.3, 1.5, -0.3, 0.8, 1.3, -0.4,
    0.3, 1.0, -0.8, 0.7, 1.2, 0.0, 0.9, 1.4, 0.5, 0.8,
    -0.5, 1.1, 0.2, 1.6, -0.1, 0.8, 1.7, -0.8, 0.5, 1.3,
    -0.4, 1.0, 1.5, 0.0, 0.6, 1.4, -0.6, 0.3, 1.2, -0.2,
    0.9, 1.5, -0.4, 0.7, 1.3, 1.0, 1.2, 0.8, 1.4, 1.1,
    1.2, -0.7, 1.4, -0.4, 1.7, 0.4, 1.5, -0.3, 1.3, -0.1,
    1.1, 1.3, 1.0, 1.4, 1.2, 1.5, 0.5, -0.2, 0.7, 1.1,
    3.3, 3.8, 2.9, 4.3, 3.5, 4.0, 3.1, 4.6, 3.7, 3.0,
    4.2, 3.4, 4.8, 3.9, 3.1, 4.4, 3.6, 4.1, 2.9, 4.7,
    3.8, 4.2, 3.5, 4.0, 4.5, 3.6, 4.0, 3.0, 4.3, 3.3,
]
TMAX_D_CORE = [
    11.0, 10.3, 13.3, 11.6, 10.0, 13.8, 10.9, 12.0, 10.6, 14.1,
    11.3, 10.1, 13.0, 11.1, 13.9, 10.5, 11.8, 9.9, 13.5, 11.2,
    10.8, 11.9, 13.7, 10.4, 11.5, 14.3, 11.0, 12.9, 11.4, 10.1,
    13.6, 11.7, 10.5, 13.1, 10.9, 12.1, 14.0, 11.2, 10.3, 12.8,
    14.2, 11.1, 10.4, 13.4, 11.8, 9.9, 11.5, 13.9, 11.0, 13.0,
    10.7, 13.7, 11.6, 10.2, 13.2, 11.3, 10.8, 14.0, 11.7, 12.9,
    12.0, 14.4, 10.8, 11.4, 13.5, 10.9, 14.5, 10.5, 13.8, 11.7,
    10.2, 11.5, 14.1, 10.9, 12.2, 13.6, 10.4, 11.8, 13.3, 11.1,
    11.6, 10.0, 11.2, 14.6, 10.7, 11.9, 13.8, 11.3, 10.3, 14.3,
    13.1, 10.8, 11.7, 14.4, 10.2, 12.0, 11.4, 10.8, 13.7, 11.9,
    14.7, 11.0, 13.4, 10.4, 11.6, 14.1, 10.9, 12.1, 13.9, 10.6,
    11.3, 13.2, 10.1, 11.8, 13.8, 11.1, 12.1, 14.2, 11.5, 13.5,
    12.8, 13.8, 13.1, 14.3, 12.9, 13.5, 14.5, 12.7, 13.3, 14.0,
    13.0, 13.7, 14.6, 13.2, 13.4, 14.1, 12.8, 13.1, 13.9, 12.9,
    13.8, 14.4, 12.8, 13.5, 14.2, 13.6, 13.9, 13.3, 14.1, 13.7,
    13.6, 12.7, 14.2, 12.9, 14.5, 13.0, 14.3, 13.1, 13.9, 13.2,
    13.8, 14.0, 13.5, 14.1, 13.7, 14.2, 12.8, 12.6, 13.2, 13.6,
    13.5, 13.9, 13.1, 14.4, 13.6, 14.2, 13.3, 14.6, 13.8, 13.2,
    14.3, 13.5, 14.8, 13.9, 13.2, 14.5, 13.7, 14.1, 13.0, 14.7,
    13.8, 14.2, 13.6, 14.0, 14.5, 13.7, 14.1, 13.1, 14.4, 13.4,
]

MARKER_AREA = 120


def draw_panel(fig, rect, basal, tmin, tmax, min_color, max_first, bold,
               ylab_x, legend_anchor, caption, caption_xy):
    ax = fig.add_axes(rect)
    ax.set_xlim(-5, 25)
    ax.set_ylim(0, 40)
    ax.set_xticks(X_TICKS)
    ax.set_yticks(Y_TICKS)
    ax.tick_params(length=0, labelbottom=False, labelleft=False)
    ax.grid(True, color='#E9E9E9', linewidth=1.6, zorder=0)
    ax.set_axisbelow(True)
    for sp in ax.spines.values():
        sp.set_visible(False)
    ax.axhline(0, color='#D4D4D4', linewidth=1.8, clip_on=False, zorder=1)
    ax.axvline(0, color='#DCDCDC', linewidth=1.6, zorder=1)

    for v in X_TICKS:
        ax.annotate('%.1f' % v, xy=(v, 0), xytext=(0, -29.5), textcoords='offset points',
                    ha='center', va='center', fontsize=16.5, color=TEXT_GREY,
                    annotation_clip=False)
    for v in Y_TICKS:
        ax.annotate('%.1f' % v, xy=(0, v), xytext=(-20, 0), textcoords='offset points',
                    ha='right', va='center', fontsize=16.5, color=TEXT_GREY, zorder=1,
                    annotation_clip=False)

    s_min = ax.scatter(tmin, basal, s=MARKER_AREA, color=min_color, linewidths=0,
                       clip_on=False, zorder=3, label='Min')
    s_max = ax.scatter(tmax, basal, s=MARKER_AREA, color=MAX_COLOR, linewidths=0,
                       clip_on=False, zorder=3, label='Max')

    weight = 'bold' if bold else 'normal'
    ax.text(0.5, -0.079, X_LABEL, transform=ax.transAxes, ha='center', va='center',
            fontsize=15.5 if bold else 17, fontweight=weight, color=TEXT_GREY)
    ax.text(ylab_x, 0.5, Y_LABEL, transform=ax.transAxes, ha='center', va='center',
            rotation=90, fontsize=15 if bold else 16.5, fontweight=weight, color=TEXT_GREY)

    handles = [s_max, s_min] if max_first else [s_min, s_max]
    ax.legend(handles=handles, labels=[h.get_label() for h in handles],
              loc='center left', bbox_to_anchor=legend_anchor, frameon=False,
              handlelength=0.8, handletextpad=0.45, labelspacing=0.9,
              borderpad=0, borderaxespad=0, fontsize=17, labelcolor=TEXT_GREY,
              scatterpoints=1, markerscale=0.8)

    fig.text(caption_xy[0], caption_xy[1], caption, ha='center', va='center',
             fontsize=58, family='Liberation Serif', color='black')
    return ax


def main():
    fig = plt.figure(figsize=(35.5, 27.23), dpi=100)
    basal_a = BASAL_A + BASAL_A_CORE
    tmin_a = TMIN_A + TMIN_A_CORE
    tmax_a = TMAX_A + TMAX_A_CORE
    basal_b = BASAL_B + BASAL_B_CORE
    tmin_b = TMIN_B + TMIN_B_CORE
    tmax_b = TMAX_B + TMAX_B_CORE
    basal_d = BASAL_D + BASAL_D_CORE
    tmin_d = TMIN_D + TMIN_D_CORE
    tmax_d = TMAX_D + TMAX_D_CORE

    draw_panel(fig, [0.01746, 0.61109, 0.44451, 0.37752], basal_a, tmin_a, tmax_a,
               MIN_COLOR_LIGHT, False, True, -0.0133, (1.0406, 0.4538),
               CAPTIONS[0], (0.2335, 0.5402))
    draw_panel(fig, [0.53746, 0.61072, 0.41408, 0.37753], basal_b, tmin_b, tmax_b,
               MIN_COLOR, True, False, -0.0143, (1.0453, 0.456),
               CAPTIONS[1], (0.7431, 0.5402))
    draw_panel(fig, [0.01746, 0.09328, 0.41408, 0.37863], basal_b, tmin_b, tmax_b,
               MIN_COLOR, True, False, -0.015, (1.0446, 0.4534),
               CAPTIONS[2], (0.2335, 0.0228))
    draw_panel(fig, [0.50563, 0.09328, 0.41634, 0.37863], basal_d, tmin_d, tmax_d,
               MIN_COLOR, True, True, -0.0122, (1.0437, 0.4534),
               CAPTIONS[3], (0.7310, 0.0228))
    fig.savefig('out.png', dpi=100, facecolor='white')


if __name__ == '__main__':
    main()
